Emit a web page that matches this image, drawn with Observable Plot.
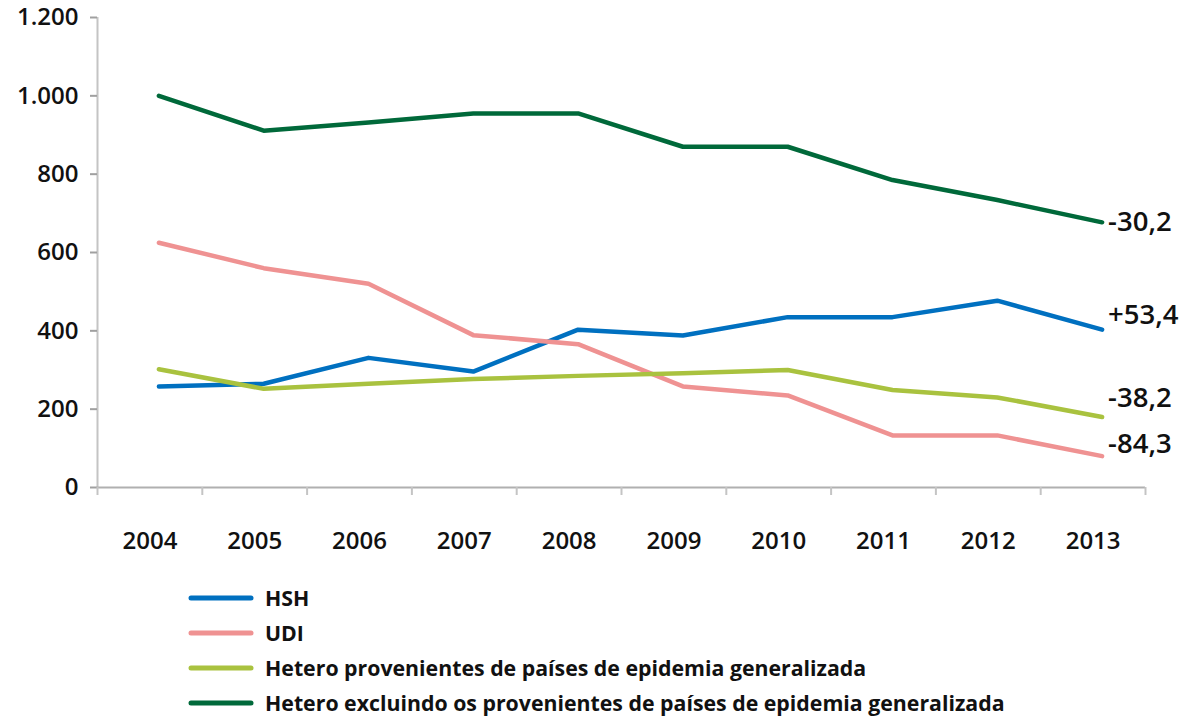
<!DOCTYPE html>
<html>
<head>
<meta charset="utf-8">
<script src="https://cdn.jsdelivr.net/npm/d3@7"></script>
<script src="https://cdn.jsdelivr.net/npm/@observablehq/plot@0.6"></script>
<style>
  html, body { margin: 0; padding: 0; background: #fff; }
  body { width: 1191px; height: 718px; overflow: hidden; font-family: "Open Sans", sans-serif; }
  #chart svg { display: block; }
  #legend { position: absolute; left: 188px; top: 580px; }
  .item { display: flex; align-items: center; height: 35px; }
  .item svg { margin-right: 11px; }
  .item span { font-size: 21.3px; font-weight: 700; color: #111; letter-spacing: 0; }
</style>
</head>
<body>
<div id="chart"></div>
<div id="legend"></div>
<script>
const years = [2004, 2005, 2006, 2007, 2008, 2009, 2010, 2011, 2012, 2013];
const seriesNames = [
  "HSH",
  "UDI",
  "Hetero provenientes de países de epidemia generalizada",
  "Hetero excluindo os provenientes de países de epidemia generalizada"
];
const hsh    = [258, 265, 331, 296, 403, 388, 435, 435, 477, 403];
const udi    = [625, 560, 520, 389, 366, 258, 235, 133, 133, 80];
const hetGen = [302, 252, 265, 277, 285, 292, 300, 249, 230, 180];
const hetExc = [1000, 911, 932, 955, 955, 870, 870, 785, 734, 677];
const endLabels = ["+53,4", "-84,3", "-38,2", "-30,2"];
const yTicks = [0, 200, 400, 600, 800, 1000, 1200];

const colors = ["#0070c0", "#ef9292", "#a9c23f", "#00693a"];
const labelDy = [-14, -12, -19, 0];

const allValues = [hsh, udi, hetGen, hetExc];
const rows = [];
allValues.forEach((vals, s) => vals.forEach((v, i) => rows.push({series: seriesNames[s], year: years[i], value: v})));
const ends = allValues.map((vals, s) => ({series: seriesNames[s], year: years[years.length - 1], value: vals[vals.length - 1], label: endLabels[s], dy: labelDy[s]}));

const loc = d3.formatLocale({decimal: ",", thousands: ".", grouping: [3], currency: ["", ""]});
const fmt = loc.format(",");

const bounds = d3.range(years[0] - 0.5, years[years.length - 1] + 1, 1);

const plot = Plot.plot({
  width: 1191,
  height: 575,
  marginLeft: 97,
  marginRight: 46,
  marginTop: 17,
  marginBottom: 88,
  style: {fontFamily: "'Open Sans', sans-serif", background: "#fff"},
  x: {type: "linear", domain: [years[0] - 0.5, years[years.length - 1] + 0.5]},
  y: {domain: [0, 1200]},
  color: {domain: seriesNames, range: colors},
  marks: [
    Plot.ruleX([years[0] - 0.5], {stroke: "#c4c4c4", strokeWidth: 2}),
    Plot.axisY({ticks: yTicks, tickFormat: fmt, tickSize: 7, tickPadding: 12, stroke: "#a0a0a0", strokeWidth: 2,
      fontSize: 24, fontWeight: 600, fill: "#111", label: null}),
    Plot.ruleY([0], {stroke: "#b0b0b0", strokeWidth: 2}),
    Plot.axisX({ticks: bounds, tickFormat: () => "", tickSize: 8, stroke: "#c4c4c4", strokeWidth: 2, label: null}),
    Plot.axisX({ticks: years, tickFormat: d => String(d), tickSize: 0, tickPadding: 44,
      fontSize: 24, fontWeight: 600, fill: "#111", label: null}),
    Plot.line(rows, {x: "year", y: "value", z: "series", stroke: "series", strokeWidth: 4.5,
      strokeLinecap: "round", strokeLinejoin: "round", dx: 9}),
    ...ends.map(e => Plot.text([e], {x: "year", y: "value", text: "label", textAnchor: "start", dx: 15, dy: e.dy,
      fontSize: 27.5, fontWeight: 600, fill: "#111"}))
  ]
});
document.getElementById("chart").appendChild(plot);

const legend = document.getElementById("legend");
seriesNames.forEach((name, i) => {
  const item = document.createElement("div");
  item.className = "item";
  item.innerHTML = `<svg width="66" height="10"><line x1="3" y1="5" x2="63" y2="5" stroke="${colors[i]}" stroke-width="5" stroke-linecap="round"/></svg><span>${name}</span>`;
  legend.appendChild(item);
});
</script>
</body>
</html>
